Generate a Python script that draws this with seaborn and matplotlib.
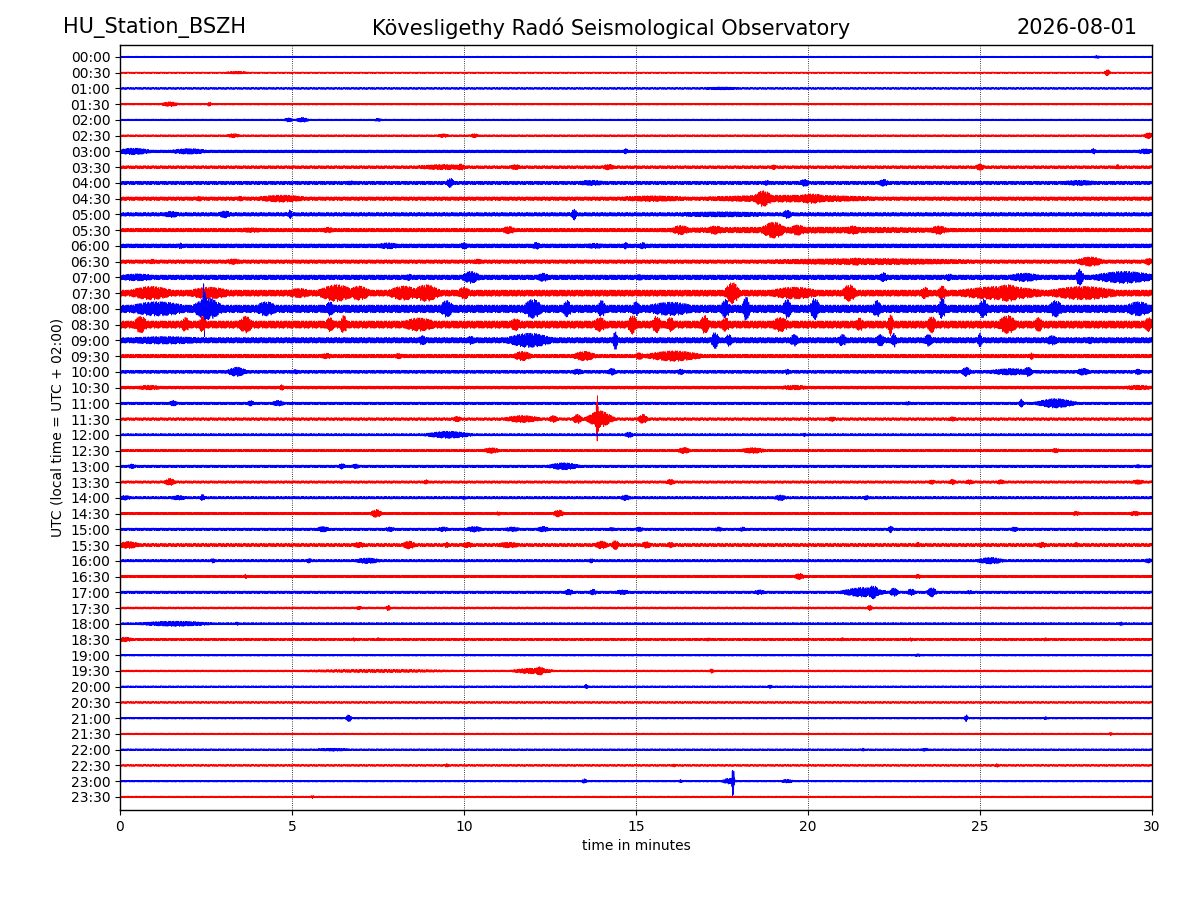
import numpy as np
import pandas as pd
import matplotlib
matplotlib.use("Agg")
import matplotlib.pyplot as plt
import seaborn as sns

# ---------------- data ----------------
row_labels = ["00:00", "00:30", "01:00", "01:30", "02:00", "02:30", "03:00", "03:30",
              "04:00", "04:30", "05:00", "05:30", "06:00", "06:30", "07:00", "07:30",
              "08:00", "08:30", "09:00", "09:30", "10:00", "10:30", "11:00", "11:30",
              "12:00", "12:30", "13:00", "13:30", "14:00", "14:30", "15:00", "15:30",
              "16:00", "16:30", "17:00", "17:30", "18:00", "18:30", "19:00", "19:30",
              "20:00", "20:30", "21:00", "21:30", "22:00", "22:30", "23:00", "23:30"]

# background noise half-amplitude of each trace (relative units)
baseline_amp = [0.045, 0.04, 0.05, 0.05, 0.05, 0.05, 0.08, 0.08,
                0.09, 0.10, 0.10, 0.10, 0.11, 0.10, 0.13, 0.17,
                0.21, 0.20, 0.15, 0.10, 0.085, 0.085, 0.07, 0.075,
                0.065, 0.065, 0.07, 0.07, 0.07, 0.07, 0.07, 0.085,
                0.07, 0.07, 0.07, 0.06, 0.06, 0.06, 0.05, 0.055,
                0.05, 0.05, 0.05, 0.05, 0.05, 0.05, 0.05, 0.05]

# bursts: (trace index, centre minute, half width in minutes, half-amplitude, relative units)
bursts = [
    (0, 28.4, 0.1, 0.06),
    (1, 3.4, 0.3, 0.06), (1, 28.7, 0.06, 0.14),
    (2, 17.5, 0.5, 0.065),
    (3, 1.45, 0.2, 0.1), (3, 2.6, 0.05, 0.09),
    (4, 4.9, 0.1, 0.09), (4, 5.3, 0.15, 0.1), (4, 7.5, 0.1, 0.07),
    (5, 3.3, 0.15, 0.09), (5, 9.4, 0.15, 0.08), (5, 10.3, 0.1, 0.09), (5, 29.9, 0.1, 0.13),
    (6, 0.4, 0.4, 0.14), (6, 2.0, 0.45, 0.12), (6, 14.7, 0.06, 0.12), (6, 28.3, 0.06, 0.12),
    (6, 29.8, 0.2, 0.11),
    (7, 9.4, 0.7, 0.11), (7, 9.9, 0.1, 0.14), (7, 11.5, 0.15, 0.11), (7, 14.2, 0.15, 0.12),
    (7, 19.0, 0.06, 0.11), (7, 25.0, 0.1, 0.14), (7, 29.0, 0.06, 0.11),
    (8, 6.7, 0.15, 0.09), (8, 9.6, 0.08, 0.2), (8, 13.7, 0.4, 0.11), (8, 18.8, 0.08, 0.11),
    (8, 19.9, 0.12, 0.15), (8, 22.2, 0.12, 0.15), (8, 27.9, 0.5, 0.11),
    (9, 2.3, 0.08, 0.11), (9, 3.5, 0.08, 0.11), (9, 4.7, 0.6, 0.15), (9, 19.5, 2.2, 0.15),
    (9, 18.7, 0.2, 0.33), (9, 20.1, 0.4, 0.2), (9, 15.5, 1.0, 0.12),
    (10, 1.5, 0.2, 0.13), (10, 3.05, 0.15, 0.15), (10, 4.95, 0.04, 0.2), (10, 13.2, 0.06, 0.24),
    (10, 19.4, 0.1, 0.18), (10, 17.5, 1.5, 0.11),
    (11, 3.8, 0.45, 0.1), (11, 6.05, 0.15, 0.12), (11, 11.3, 0.15, 0.16), (11, 20.0, 4.5, 0.13),
    (11, 16.3, 0.2, 0.2), (11, 17.3, 0.2, 0.18), (11, 19.0, 0.25, 0.34), (11, 19.7, 0.2, 0.22),
    (11, 21.3, 0.2, 0.18), (11, 23.8, 0.2, 0.18),
    (12, 1.76, 0.05, 0.13), (12, 7.8, 0.3, 0.13), (12, 10.0, 0.1, 0.14), (12, 12.1, 0.1, 0.15),
    (12, 13.8, 0.3, 0.11), (12, 14.7, 0.06, 0.15), (12, 15.2, 0.1, 0.14),
    (13, 0.95, 0.1, 0.11), (13, 3.3, 0.2, 0.12), (13, 10.4, 0.15, 0.11), (13, 21.8, 3.0, 0.13),
    (13, 21.4, 0.2, 0.16), (13, 28.2, 0.3, 0.2), (13, 29.9, 0.1, 0.15),
    (14, 0.5, 0.5, 0.15), (14, 8.4, 0.1, 0.14), (14, 10.2, 0.2, 0.25), (14, 12.3, 0.15, 0.18),
    (14, 15.1, 0.1, 0.13), (14, 22.2, 0.1, 0.2), (14, 24.1, 0.1, 0.15), (14, 26.3, 0.4, 0.18),
    (14, 27.9, 0.08, 0.35), (14, 29.2, 0.7, 0.25),
    (15, 0.9, 0.5, 0.28), (15, 2.6, 0.5, 0.25), (15, 5.2, 0.3, 0.2), (15, 6.3, 0.4, 0.35),
    (15, 6.95, 0.25, 0.3), (15, 8.25, 0.35, 0.3), (15, 8.9, 0.3, 0.35), (15, 10.0, 0.15, 0.25),
    (15, 17.8, 0.15, 0.45), (15, 19.6, 0.6, 0.25), (15, 21.2, 0.15, 0.35), (15, 23.4, 0.1, 0.25),
    (15, 23.9, 0.1, 0.3), (15, 25.6, 1.0, 0.28), (15, 25.8, 0.35, 0.35), (15, 28.0, 0.8, 0.28),
    (16, 2.45, 0.03, 1.19), (16, 2.55, 0.3, 0.45), (16, 1.1, 0.7, 0.3), (16, 4.25, 0.25, 0.3),
    (16, 6.1, 0.1, 0.3), (16, 9.5, 0.15, 0.35), (16, 12.0, 0.2, 0.4), (16, 13.0, 0.1, 0.35),
    (16, 14.0, 0.1, 0.35), (16, 15.0, 0.1, 0.3), (16, 16.0, 0.6, 0.28), (16, 17.6, 0.1, 0.4),
    (16, 18.2, 0.08, 0.5), (16, 19.4, 0.1, 0.4), (16, 20.2, 0.1, 0.45), (16, 22.0, 0.1, 0.35),
    (16, 23.9, 0.08, 0.45), (16, 25.1, 0.1, 0.4), (16, 27.2, 0.15, 0.35), (16, 29.6, 0.3, 0.3),
    (17, 0.6, 0.15, 0.35), (17, 1.9, 0.1, 0.3), (17, 2.4, 0.08, 0.35), (17, 3.65, 0.15, 0.35),
    (17, 6.1, 0.1, 0.3), (17, 6.5, 0.08, 0.38), (17, 8.7, 0.4, 0.28), (17, 11.5, 0.15, 0.25),
    (17, 13.95, 0.15, 0.3), (17, 14.9, 0.1, 0.4), (17, 15.6, 0.1, 0.35), (17, 16.0, 0.1, 0.3),
    (17, 17.0, 0.1, 0.38), (17, 17.6, 0.1, 0.3), (17, 19.2, 0.2, 0.3), (17, 21.5, 0.1, 0.28),
    (17, 22.4, 0.06, 0.45), (17, 23.6, 0.1, 0.35), (17, 25.8, 0.2, 0.38), (17, 26.7, 0.1, 0.3),
    (17, 29.9, 0.1, 0.3),
    (18, 1.3, 1.2, 0.16), (18, 8.8, 0.1, 0.2), (18, 10.2, 0.1, 0.18), (18, 11.9, 0.5, 0.3),
    (18, 14.4, 0.05, 0.4), (18, 17.3, 0.08, 0.35), (18, 17.7, 0.08, 0.25), (18, 19.6, 0.1, 0.25),
    (18, 21.0, 0.1, 0.25), (18, 22.1, 0.1, 0.25), (18, 22.5, 0.06, 0.3), (18, 23.5, 0.1, 0.25),
    (18, 25.0, 0.05, 0.3), (18, 27.1, 0.15, 0.2), (18, 28.2, 0.1, 0.15),
    (19, 6.0, 0.15, 0.12), (19, 8.1, 0.1, 0.12), (19, 11.7, 0.2, 0.2), (19, 13.5, 0.25, 0.2),
    (19, 15.1, 0.1, 0.15), (19, 16.1, 0.6, 0.22), (19, 26.5, 0.05, 0.15),
    (20, 3.4, 0.2, 0.2), (20, 5.1, 0.08, 0.1), (20, 13.3, 0.15, 0.12), (20, 14.3, 0.1, 0.15),
    (20, 16.3, 0.1, 0.12), (20, 19.4, 0.06, 0.12), (20, 24.6, 0.1, 0.2), (20, 25.9, 0.5, 0.14),
    (20, 26.4, 0.1, 0.2), (20, 28.0, 0.15, 0.15), (20, 29.6, 0.1, 0.12),
    (21, 0.85, 0.35, 0.1), (21, 4.7, 0.06, 0.12), (21, 19.6, 0.4, 0.1), (21, 29.6, 0.4, 0.1),
    (22, 1.55, 0.1, 0.12), (22, 3.8, 0.08, 0.12), (22, 4.6, 0.15, 0.12), (22, 22.9, 0.1, 0.08),
    (22, 26.2, 0.05, 0.18), (22, 27.2, 0.4, 0.2),
    (23, 9.8, 0.1, 0.12), (23, 11.7, 0.4, 0.15), (23, 12.6, 0.1, 0.15), (23, 13.3, 0.1, 0.2),
    (23, 13.87, 0.03, 1.0), (23, 13.95, 0.25, 0.35), (23, 15.2, 0.1, 0.2), (23, 20.7, 0.1, 0.1),
    (23, 24.2, 0.1, 0.1),
    (24, 9.55, 0.5, 0.15), (24, 14.8, 0.1, 0.12), (24, 19.9, 0.05, 0.08),
    (25, 10.8, 0.2, 0.12), (25, 16.4, 0.15, 0.13), (25, 18.4, 0.3, 0.12), (25, 27.2, 0.1, 0.1),
    (26, 0.35, 0.1, 0.1), (26, 6.45, 0.08, 0.12), (26, 6.85, 0.1, 0.1), (26, 12.9, 0.35, 0.15),
    (26, 29.6, 0.08, 0.08),
    (27, 1.45, 0.12, 0.15), (27, 8.9, 0.06, 0.1), (27, 16.0, 0.1, 0.12), (27, 23.6, 0.08, 0.1),
    (27, 24.2, 0.08, 0.12), (27, 24.7, 0.1, 0.1), (27, 25.6, 0.1, 0.1), (27, 29.6, 0.15, 0.1),
    (28, 0.15, 0.15, 0.1), (28, 1.7, 0.2, 0.1), (28, 2.4, 0.06, 0.14), (28, 10.0, 0.06, 0.08),
    (28, 14.7, 0.12, 0.12), (28, 19.2, 0.15, 0.12), (28, 21.7, 0.08, 0.1),
    (29, 7.45, 0.12, 0.17), (29, 11.0, 0.08, 0.08), (29, 12.75, 0.12, 0.15), (29, 27.8, 0.1, 0.1),
    (29, 29.5, 0.15, 0.1),
    (30, 5.9, 0.15, 0.12), (30, 7.85, 0.12, 0.1), (30, 9.4, 0.15, 0.1), (30, 10.3, 0.2, 0.12),
    (30, 11.4, 0.2, 0.1), (30, 12.3, 0.15, 0.12), (30, 14.3, 0.1, 0.08), (30, 15.1, 0.1, 0.1),
    (30, 17.4, 0.1, 0.1), (30, 18.1, 0.08, 0.1), (30, 22.4, 0.06, 0.15), (30, 26.0, 0.1, 0.1),
    (31, 0.25, 0.25, 0.15), (31, 6.95, 0.15, 0.12), (31, 8.4, 0.15, 0.17), (31, 9.5, 0.06, 0.12),
    (31, 10.1, 0.15, 0.12), (31, 11.3, 0.3, 0.12), (31, 14.0, 0.15, 0.17), (31, 14.4, 0.08, 0.2),
    (31, 15.3, 0.12, 0.14), (31, 16.0, 0.1, 0.12), (31, 23.2, 0.05, 0.12), (31, 26.8, 0.12, 0.12),
    (31, 27.8, 0.05, 0.12),
    (32, 2.7, 0.06, 0.1), (32, 5.5, 0.08, 0.1), (32, 7.2, 0.3, 0.12), (32, 13.7, 0.06, 0.1),
    (32, 25.3, 0.3, 0.14), (32, 29.9, 0.1, 0.1),
    (33, 3.65, 0.04, 0.1), (33, 19.75, 0.12, 0.13), (33, 23.2, 0.08, 0.1),
    (34, 13.05, 0.1, 0.13), (34, 13.75, 0.08, 0.13), (34, 14.6, 0.2, 0.1), (34, 18.6, 0.15, 0.1),
    (34, 21.6, 0.45, 0.2), (34, 21.9, 0.12, 0.28), (34, 22.5, 0.1, 0.18), (34, 23.0, 0.1, 0.14),
    (34, 23.6, 0.1, 0.2), (34, 24.7, 0.1, 0.08),
    (35, 6.95, 0.08, 0.08), (35, 7.8, 0.05, 0.12), (35, 21.8, 0.06, 0.12),
    (36, 1.6, 0.85, 0.11), (36, 3.4, 0.04, 0.08), (36, 29.1, 0.06, 0.08),
    (37, 0.15, 0.2, 0.1), (37, 6.8, 0.05, 0.08), (37, 7.5, 0.04, 0.08), (37, 17.1, 0.1, 0.07),
    (37, 21.0, 0.05, 0.08), (37, 23.0, 0.05, 0.08), (37, 26.9, 0.05, 0.08),
    (38, 23.2, 0.1, 0.06),
    (39, 12.0, 0.45, 0.12), (39, 12.2, 0.12, 0.18), (39, 7.5, 2.5, 0.065), (39, 17.2, 0.05, 0.1),
    (40, 13.55, 0.05, 0.1), (40, 18.9, 0.05, 0.08),
    (42, 6.65, 0.06, 0.15), (42, 24.6, 0.04, 0.15), (42, 26.9, 0.05, 0.07),
    (43, 28.8, 0.05, 0.07),
    (44, 6.2, 0.5, 0.065), (44, 21.6, 0.05, 0.07), (44, 23.4, 0.1, 0.07),
    (45, 9.5, 0.05, 0.08), (45, 16.1, 0.05, 0.07), (45, 25.5, 0.05, 0.08),
    (46, 13.5, 0.06, 0.1), (46, 17.82, 0.025, 0.71), (46, 17.7, 0.15, 0.12), (46, 19.4, 0.15, 0.08),
    (46, 16.3, 0.05, 0.07),
    (47, 5.6, 0.04, 0.07),
]

trace_colors = ["#0000ff", "#ff0000"]
x_ticks = [0, 5, 10, 15, 20, 25, 30]

station = "HU_Station_BSZH"
observatory = "Kövesligethy Radó Seismological Observatory"
day = "2026-08-01"

# drawing scale: relative units -> trace spacing
burst_scale = 1.55
noise_scale = 1.2

# ---------------- build traces ----------------
n_samp = 3600
minutes = np.linspace(0, 30, n_samp)
# fixed up/down drawing pattern so each trace reads as an oscillation
swing = np.array([0.8, -0.6, 1.0, -0.75, 0.5, -1.0, 0.7, -0.55, 0.95, -0.8, 0.6, -0.9,
                  1.0, -0.5, 0.75, -0.95, 0.55, -0.7, 0.9, -1.0, 0.65, -0.8, 0.5, -0.9,
                  1.0, -0.6, 0.85, -0.7, 0.95])
swing_full = np.resize(swing, n_samp)

frames = []
for i, lab in enumerate(row_labels):
    env = np.full(n_samp, baseline_amp[i] * noise_scale)
    for (r, c, w, a) in bursts:
        if r == i:
            env = np.maximum(env, burst_scale * a * np.exp(-0.5 * ((minutes - c) / w) ** 2))
    frames.append(pd.DataFrame({"minute": minutes,
                                "offset": i - env * swing_full,
                                "trace": lab}))

# ---------------- draw ----------------
sns.set_style("ticks")
plt.rcParams["font.family"] = ["DejaVu Sans"]
plt.rcParams["path.simplify"] = False
for k in ["text.color", "axes.labelcolor", "xtick.color", "ytick.color", "axes.edgecolor"]:
    plt.rcParams[k] = "black"

fig = plt.figure(figsize=(12, 9), dpi=100)
ax = fig.add_axes([0.1, 0.1, 0.86, 0.85])

for i, df in enumerate(frames):
    sns.lineplot(data=df, x="minute", y="offset", estimator=None, sort=False,
                 color=trace_colors[i % 2], linewidth=0.5, ax=ax, legend=False)

ax.set_xlim(0, 30)
ax.set_ylim(47.83, -0.76)
ax.set_yticks(range(len(row_labels)))
ax.set_yticklabels(row_labels, fontsize=10, color="black")
ax.set_xticks(x_ticks)
ax.set_xticklabels([str(t) for t in x_ticks], fontsize=10, color="black")
ax.tick_params(colors="black")
for t in x_ticks[1:-1]:
    ax.axvline(t, color="black", linestyle=":", linewidth=0.6, zorder=0)
ax.set_xlabel("time in minutes", fontsize=10, color="black")
ax.set_ylabel("UTC (local time = UTC + 02:00)", fontsize=10, color="black")
for s in ax.spines.values():
    s.set_visible(True)
    s.set_linewidth(1.0)
    s.set_color("black")

fig.text(0.0525, 0.969, station, fontsize=15, ha="left", va="center", color="black")
fig.text(0.509, 0.969, observatory, fontsize=15, ha="center", va="center", color="black")
fig.text(0.9475, 0.969, day, fontsize=15, ha="right", va="center", color="black")

fig.savefig("out.png", dpi=100)
